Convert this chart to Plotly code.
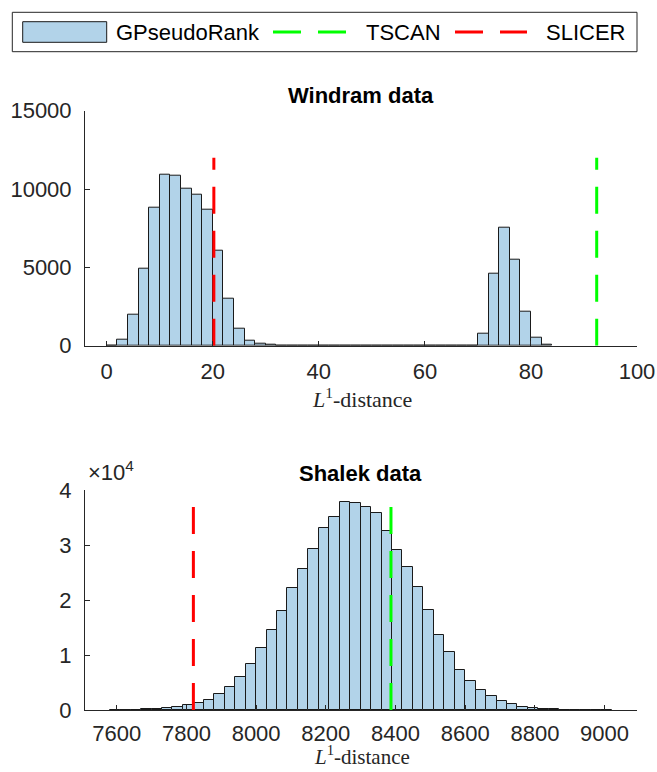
import plotly.graph_objects as go

# ---------------- data ----------------
# Windram data histogram (bin width 2, first bin starts at 0)
windram_bin_start = 0
windram_bin_width = 2
windram_counts = [20, 400, 2000, 4900, 8800, 10900, 10850, 10050, 9650, 8700,
                  6050, 3000, 1100, 300, 100, 50, 30, 20, 15, 10,
                  10, 8, 8, 6, 6, 5, 5, 5, 5, 6,
                  6, 8, 10, 15, 30, 770, 4600, 7550, 5500, 2200,
                  530, 40]
windram_tscan = 92.4
windram_slicer = 20.2
windram_line_height = 12000

# Shalek data histogram (bin width 30, first bin starts at 7580)
shalek_bin_start = 7580
shalek_bin_width = 30
shalek_counts = [40, 60, 80, 130, 220, 350, 550, 850, 1200, 1900,
                 2850, 4150, 6000, 8400, 11300, 14500, 18000, 22100, 25700, 29300,
                 33100, 35100, 37800, 37650, 36900, 35750, 32530, 29120, 26020, 22310,
                 18240, 13620, 10520, 7360, 5230, 3710, 2550, 1640, 1030, 610,
                 365, 180, 120, 80, 50, 30, 20, 15]
shalek_tscan = 8387
shalek_slicer = 7820
shalek_line_height = 37000

top_xticks = [0, 20, 40, 60, 80, 100]
top_yticks = [0, 5000, 10000, 15000]
top_yticklabels = ["0", "5000", "10000", "15000"]
bot_xticks = [7600, 7800, 8000, 8200, 8400, 8600, 8800, 9000]
bot_yticks = [0, 10000, 20000, 30000, 40000]
bot_yticklabels = ["0", "1", "2", "3", "4"]

series_names = ["GPseudoRank", "TSCAN", "SLICER"]
titles = ["Windram data", "Shalek data"]

# ---------------- style ----------------
W, H = 657, 772
BAR_FILL = "rgb(178,211,233)"
BAR_EDGE = "#1a1a1a"
GREEN = "#00ff00"
RED = "#ff0000"
AX = "#262626"
DASH = "27px,17px"
SANS = "Liberation Sans, Arial, Helvetica, sans-serif"
SERIF = "Liberation Serif, Times New Roman, serif"
FS = 22


def px_x(p):
    return p / W


def px_y(p):
    return 1 - p / H


def centers(start, width, n):
    return [start + width * (i + 0.5) for i in range(n)]


fig = go.Figure()

# top histogram
fig.add_trace(go.Bar(
    x=centers(windram_bin_start, windram_bin_width, len(windram_counts)),
    y=windram_counts, width=windram_bin_width,
    marker=dict(color=BAR_FILL, line=dict(color=BAR_EDGE, width=1)),
    name=series_names[0], showlegend=False, xaxis="x", yaxis="y"))
fig.add_trace(go.Scatter(
    x=[windram_tscan, windram_tscan], y=[0, windram_line_height], mode="lines",
    line=dict(color=GREEN, width=3, dash=DASH), name=series_names[1],
    showlegend=False, xaxis="x", yaxis="y"))
fig.add_trace(go.Scatter(
    x=[windram_slicer, windram_slicer], y=[0, windram_line_height], mode="lines",
    line=dict(color=RED, width=3, dash=DASH), name=series_names[2],
    showlegend=False, xaxis="x", yaxis="y"))

# bottom histogram
fig.add_trace(go.Bar(
    x=centers(shalek_bin_start, shalek_bin_width, len(shalek_counts)),
    y=shalek_counts, width=shalek_bin_width,
    marker=dict(color=BAR_FILL, line=dict(color=BAR_EDGE, width=1)),
    name=series_names[0], showlegend=False, xaxis="x2", yaxis="y2"))
fig.add_trace(go.Scatter(
    x=[shalek_tscan, shalek_tscan], y=[0, shalek_line_height], mode="lines",
    line=dict(color=GREEN, width=3, dash=DASH), name=series_names[1],
    showlegend=False, xaxis="x2", yaxis="y2"))
fig.add_trace(go.Scatter(
    x=[shalek_slicer, shalek_slicer], y=[0, shalek_line_height], mode="lines",
    line=dict(color=RED, width=3, dash=DASH), name=series_names[2],
    showlegend=False, xaxis="x2", yaxis="y2"))

axis_common = dict(showline=True, linecolor=AX, linewidth=1, ticks="inside",
                   ticklen=5, tickcolor=AX, showgrid=False, zeroline=False,
                   tickfont=dict(family=SANS, size=FS, color=AX),
                   automargin=False)

xdom = [px_x(85), px_x(637)]
fig.update_layout(
    width=W, height=H,
    margin=dict(l=0, r=0, t=0, b=0),
    paper_bgcolor="white", plot_bgcolor="white",
    bargap=0,
    xaxis=dict(domain=xdom, range=[-4.1, 100], tickvals=top_xticks,
               ticktext=[str(v) for v in top_xticks],
               anchor="y", ticklabelstandoff=6, **axis_common),
    yaxis=dict(domain=[px_y(345.7), px_y(110.7)], range=[0, 15000],
               tickvals=top_yticks, ticktext=top_yticklabels, anchor="x",
               ticklabelstandoff=8, **axis_common),
    xaxis2=dict(domain=xdom, range=[7509, 9093], tickvals=bot_xticks,
                ticktext=[str(v) for v in bot_xticks],
                anchor="y2", ticklabelstandoff=4, **axis_common),
    yaxis2=dict(domain=[px_y(710), px_y(490)], range=[0, 40000],
                tickvals=bot_yticks, ticktext=bot_yticklabels, anchor="x2",
                ticklabelstandoff=8, **axis_common),
    showlegend=False,
)

annotations = [
    dict(text="<b>" + titles[0] + "</b>", x=px_x(361), y=px_y(95),
         font=dict(family=SANS, size=22, color="black")),
    dict(text="<b>" + titles[1] + "</b>", x=px_x(360), y=px_y(474),
         font=dict(family=SANS, size=22, color="black")),
    dict(text="<i>L</i><sup>1</sup>-distance", x=px_x(362), y=px_y(398),
         font=dict(family=SERIF, size=22, color=AX)),
    dict(text="<i>L</i><sup>1</sup>-distance", x=px_x(362), y=px_y(771),
         yanchor="bottom", font=dict(family=SERIF, size=21, color=AX)),
    dict(text="×10<sup>4</sup>", x=px_x(86), y=px_y(487), xanchor="left",
         yanchor="bottom", font=dict(family=SANS, size=FS, color=AX)),
    # legend labels
    dict(text=series_names[0], x=px_x(114), y=px_y(32), xanchor="left",
         font=dict(family=SANS, size=FS, color="black")),
    dict(text=series_names[1], x=px_x(364), y=px_y(32), xanchor="left",
         font=dict(family=SANS, size=FS, color="black")),
    dict(text=series_names[2], x=px_x(544), y=px_y(32), xanchor="left",
         font=dict(family=SANS, size=FS, color="black")),
]
for a in annotations:
    a.setdefault("xanchor", "center")
    a.setdefault("yanchor", "middle")
    a.update(xref="paper", yref="paper", showarrow=False)
fig.update_layout(annotations=annotations)

shapes = [
    dict(type="rect", x0=px_x(12.3), x1=px_x(637), y0=px_y(12.3), y1=px_y(51.7),
         line=dict(color=AX, width=1), fillcolor="white", layer="below"),
    dict(type="rect", x0=px_x(22.7), x1=px_x(106.7), y0=px_y(21.7), y1=px_y(42.3),
         line=dict(color=BAR_EDGE, width=1), fillcolor=BAR_FILL),
    dict(type="line", x0=px_x(273), x1=px_x(346), y0=px_y(32), y1=px_y(32),
         line=dict(color=GREEN, width=3, dash="28px,17px")),
    dict(type="line", x0=px_x(455), x1=px_x(527), y0=px_y(32), y1=px_y(32),
         line=dict(color=RED, width=3, dash="28px,17px")),
]
for s in shapes:
    s.update(xref="paper", yref="paper")
fig.update_layout(shapes=shapes)

fig.write_html("out.html",
               config={"displayModeBar": False},
               post_script="document.body.style.margin='0px';"
                           "document.body.style.overflow='hidden';")
